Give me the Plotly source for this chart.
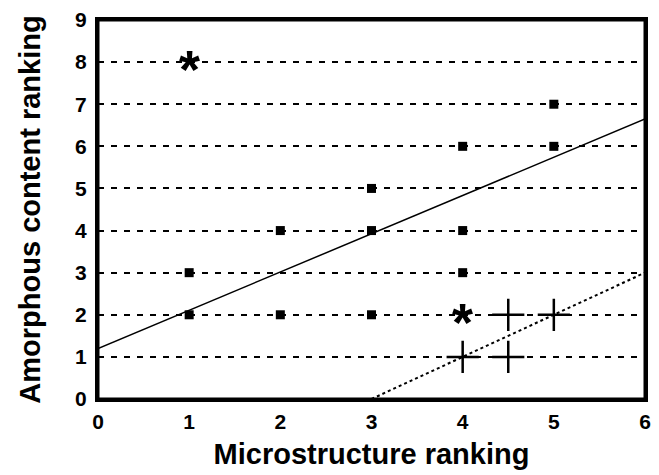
import numpy as np
import plotly.graph_objects as go

# Data
square_x = [1, 1, 2, 2, 3, 3, 3, 4, 4, 4, 5, 5]
square_y = [2, 3, 2, 4, 2, 4, 5, 3, 4, 6, 6, 7]
star_x = [1, 4]
star_y = [8, 2]
cross_x = [4, 4.5, 4.5, 5]
cross_y = [1, 1, 2, 2]
x_ticks = [0, 1, 2, 3, 4, 5, 6]
y_ticks = [0, 1, 2, 3, 4, 5, 6, 7, 8, 9]

# Least-squares fit lines
s_slope, s_int = np.polyfit(square_x, square_y, 1)
c_slope, c_int = np.polyfit(cross_x, cross_y, 1)
fx1 = np.array([0, 6])
fy1 = s_slope * fx1 + s_int
fx2 = np.array([-c_int / c_slope, 6])
fy2 = c_slope * fx2 + c_int

font_family = "Liberation Sans, Arial, sans-serif"

fig = go.Figure()
fig.add_trace(go.Scatter(x=fx1, y=fy1, mode="lines",
                         line=dict(color="black", width=1.5), showlegend=False))
fig.add_trace(go.Scatter(x=fx2, y=fy2, mode="lines",
                         line=dict(color="black", width=2, dash="dot"), showlegend=False))
fig.add_trace(go.Scatter(x=square_x, y=square_y, mode="markers",
                         marker=dict(symbol="square", size=9, color="black"), showlegend=False))
fig.add_trace(go.Scatter(x=cross_x, y=cross_y, mode="markers",
                         marker=dict(symbol="cross-thin-open", size=23, color="black",
                                     line=dict(color="black", width=2.5)), showlegend=False))
# asterisk symbols drawn as text glyphs at the data positions
for sx, sy in zip(star_x, star_y):
    fig.add_annotation(x=sx, y=sy, xref="x", yref="y", text="<b>*</b>", showarrow=False,
                       font=dict(size=54, family=font_family, color="black"),
                       xanchor="center", yanchor="middle", yshift=-7)

fig.update_layout(
    width=651, height=467,
    margin=dict(l=90, r=14, t=12, b=76),
    paper_bgcolor="white", plot_bgcolor="white",
    font=dict(family=font_family, color="black"),
    xaxis=dict(range=[0, 6], tickvals=x_ticks, ticktext=[f"<b>{v}</b>" for v in x_ticks],
               showgrid=False, zeroline=False, showline=True, mirror=True,
               linecolor="black", linewidth=3, automargin=False,
               ticks="", tickfont=dict(size=21), ticklabelstandoff=2,
               title=dict(text="<b>Microstructure ranking</b>", font=dict(size=29), standoff=12)),
    yaxis=dict(range=[0, 9], tickvals=y_ticks, ticktext=[f"<b>{v}</b>" for v in y_ticks],
               showgrid=True, gridcolor="black",
               gridwidth=2, griddash="6px,7px", zeroline=False, showline=True, mirror=True,
               linecolor="black", linewidth=3, automargin=False,
               ticks="", tickfont=dict(size=21), ticklabelstandoff=4,
               title=dict(text="<b>Amorphous content ranking</b>", font=dict(size=29), standoff=26)),
    shapes=[dict(type="rect", xref="paper", yref="paper", x0=0, y0=0, x1=1, y1=1,
                 line=dict(color="black", width=3), layer="above")],
)

fig.write_html("out.html")
